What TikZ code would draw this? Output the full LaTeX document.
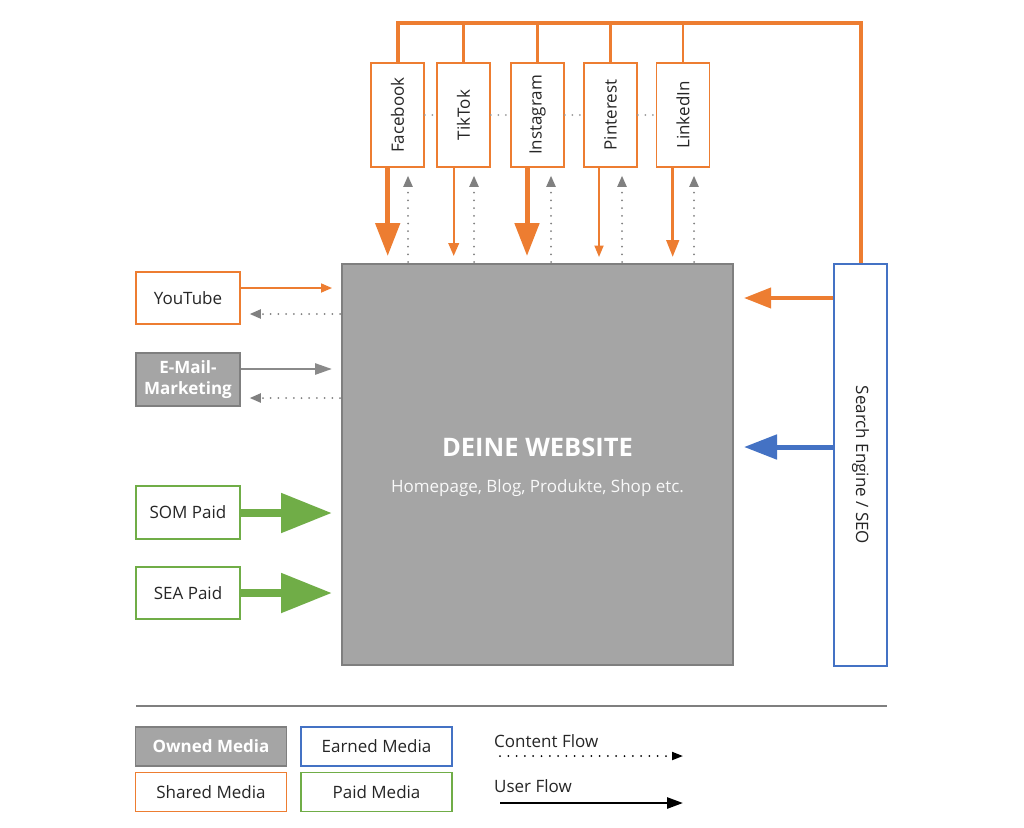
\documentclass[tikz,border=0pt]{standalone}
\usepackage{fontspec}
\setmainfont{Open Sans}
\usepackage{graphicx}
\usetikzlibrary{arrows.meta}
\definecolor{orng}{HTML}{ED7D31}
\definecolor{blu}{HTML}{4472C4}
\definecolor{grn}{HTML}{70AD47}
\definecolor{gfill}{HTML}{A5A5A5}
\definecolor{gedge}{HTML}{7F7F7F}
\definecolor{garrow}{HTML}{8A8A8A}
\definecolor{txt}{HTML}{262626}
\definecolor{dotg}{HTML}{808080}
\definecolor{lightdot}{HTML}{9A9A9A}
\begin{document}
\begin{tikzpicture}[x=1pt,y=-1pt,
  box/.style={draw, line width=1.5pt, fill=white, inner sep=0pt, text=txt,
    font=\fontsize{17}{20}\selectfont, align=center},
  shbox/.style={box, draw=orng},
  ownbox/.style={box, draw=gedge, fill=gfill, text=white,
    font=\fontsize{17}{21}\selectfont\bfseries},
  paidbox/.style={box, draw=grn},
  earnbox/.style={box, draw=blu},
  vbox/.style={minimum width=53pt, minimum height=104pt},
  hbox/.style={minimum width=104pt, minimum height=53pt},
  lgbox/.style={minimum width=151pt, minimum height=39pt},
  cflow/.style={draw=dotg, line width=2pt, line cap=round,
    dash pattern=on 0pt off 7.7pt, -{Triangle[length=11pt,width=9pt]}},
  ldot/.style={draw=lightdot, line width=2pt, line cap=round,
    dash pattern=on 0pt off 7.5pt},
  fbarrow/.style={draw=orng, line width=5pt, -{Triangle[length=33pt,width=24pt]}, shorten >=7pt},
  ttarrow/.style={draw=orng, line width=2.3pt, -{Triangle[length=13pt,width=10.5pt]}, shorten >=7pt},
  piarrow/.style={draw=orng, line width=1.8pt, -{Triangle[length=11.5pt,width=9pt]}, shorten >=6pt},
  liarrow/.style={draw=orng, line width=3pt, -{Triangle[length=17pt,width=12.5pt]}, shorten >=6pt},
  ytarrow/.style={draw=orng, line width=1.7pt, -{Triangle[length=11pt,width=9pt]}, shorten >=9pt},
  emarrow/.style={draw=garrow, line width=2.6pt, -{Triangle[length=17pt,width=11pt]}, shorten >=9pt},
  grarrow/.style={draw=grn, line width=8.3pt, -{Triangle[length=51pt,width=38pt]}, shorten >=9pt},
  seoorange/.style={draw=orng, line width=4pt, -{Triangle[length=27pt,width=20pt]}, shorten >=10pt},
  seoblue/.style={draw=blu, line width=5pt, -{Triangle[length=33pt,width=24pt]}, shorten >=10pt},
  lgtext/.style={anchor=west, inner sep=0pt, text=txt, font=\fontsize{17}{20}\selectfont},
]
\useasboundingbox (0,0) rectangle (1024,827);
\fill[white] (0,0) rectangle (1024,827);

% website
\node[ownbox, minimum width=391pt, minimum height=401pt, line width=2pt] (web) at (537.5,464.5) {};
\node[text=white, font=\fontsize{25.5}{30}\selectfont\bfseries] (title) at (537.5,447) {DEINE WEBSITE};
\node[text=white!95!gray, font=\fontsize{17}{20}\selectfont] (sub) at (537.5,488) {Homepage, Blog, Produkte, Shop etc.};

% social boxes
\node[shbox,vbox] (fb) at (397.5,115) {\rotatebox{90}{Facebook}};
\node[shbox,vbox] (tt) at (463.5,115) {\rotatebox{90}{TikTok}};
\node[shbox,vbox] (ig) at (537.5,115) {\rotatebox{90}{Instagram}};
\node[shbox,vbox] (pi) at (610.5,115) {\rotatebox{90}{Pinterest}};
\node[shbox,vbox] (li) at (683,115) {\rotatebox{90}{LinkedIn}};

% left boxes
\node[shbox,hbox,minimum height=52pt] (yt) at (188,298) {YouTube};
\node[ownbox,hbox] (em) at (188,379.5) {E-Mail-\\Marketing};
\node[paidbox,hbox] (som) at (188,512.5) {SOM Paid};
\node[paidbox,hbox,minimum height=52pt] (sea) at (188,593) {SEA Paid};

% SEO
\node[earnbox, minimum width=53pt, minimum height=402pt] (seo) at (860.5,465) {\rotatebox{-90}{Search Engine / SEO}};

% top connector line
\coordinate (top) at (0,22.5);
\draw[orng, line width=4pt] (fb.north) -- (fb.north |- top) -| (seo.north);
\foreach \n in {tt,ig,pi,li} \draw[orng, line width=2.5pt] (\n.north) -- (\n.north |- top);

% dotted links between social boxes
\draw[ldot] (fb.east) -- (tt.west);
\draw[ldot] (tt.east) -- (ig.west);
\draw[ldot] (ig.east) -- (pi.west);
\draw[ldot] (pi.east) -- (li.west);

% down arrows
\coordinate (xfd) at (387.7,0);
\coordinate (xtd) at (453.7,0);
\coordinate (xid) at (527,0);
\coordinate (xpd) at (599,0);
\coordinate (xld) at (672.7,0);
\draw[fbarrow] (fb.south -| xfd) -- (web.north -| xfd);
\draw[ttarrow] (tt.south -| xtd) -- (web.north -| xtd);
\draw[fbarrow] (ig.south -| xid) -- (web.north -| xid);
\draw[piarrow] (pi.south -| xpd) -- (web.north -| xpd);
\draw[liarrow] (li.south -| xld) -- (web.north -| xld);

% up dotted arrows
\coordinate (xfu) at (408,0);
\coordinate (xtu) at (474,0);
\coordinate (xiu) at (551,0);
\coordinate (xpu) at (622,0);
\coordinate (xlu) at (694,0);
\foreach \n/\c in {fb/xfu, tt/xtu, ig/xiu, pi/xpu, li/xlu}
  \draw[cflow, shorten >=8pt, shorten <=1pt] (web.north -| \c) -- (\n.south -| \c);

% left arrows
\coordinate (yyt) at (0,288);
\coordinate (yyt2) at (0,314);
\coordinate (yem) at (0,369);
\coordinate (yem2) at (0,398);
\coordinate (ysom) at (0,513);
\coordinate (ysea) at (0,593);
\draw[ytarrow] (yt.east |- yyt) -- (web.west |- yyt);
\draw[cflow, shorten >=9pt, shorten <=1pt] (web.west |- yyt2) -- (yt.east |- yyt2);
\draw[emarrow] (em.east |- yem) -- (web.west |- yem);
\draw[cflow, shorten >=9pt, shorten <=1pt] (web.west |- yem2) -- (em.east |- yem2);
\draw[grarrow] (som.east |- ysom) -- (web.west |- ysom);
\draw[grarrow] (sea.east |- ysea) -- (web.west |- ysea);

% SEO arrows
\coordinate (yso) at (0,298);
\coordinate (ysb) at (0,447);
\draw[seoorange] (seo.west |- yso) -- (web.east |- yso);
\draw[seoblue] (seo.west |- ysb) -- (web.east |- ysb);

% legend
\coordinate (lgl) at (136,705.5);
\coordinate (lgr) at (887,705.5);
\draw[gedge, line width=2pt] (lgl) -- (lgr);
\node[ownbox,lgbox] (owned) at (211,746.5) {Owned Media};
\node[shbox,lgbox] (shared) at (211,792) {Shared Media};
\node[earnbox,lgbox] (earned) at (376.5,746.5) {Earned Media};
\node[paidbox,lgbox] (paid) at (376.5,792) {Paid Media};

\node[lgtext] (cftext) at (494,741) {Content Flow};
\node[lgtext] (uftext) at (494,786) {User Flow};
\coordinate (cf1) at (500,756);
\coordinate (cf2) at (683,756);
\coordinate (uf1) at (500,803);
\coordinate (uf2) at (683,803);
\draw[black, line width=2pt, line cap=round, dash pattern=on 0pt off 8.3pt,
  -{Triangle[length=11pt,width=8pt]}] (cf1) -- (cf2);
\draw[black, line width=2.6pt, -{Triangle[length=16pt,width=11pt]}] (uf1) -- (uf2);
\end{tikzpicture}
\end{document}
